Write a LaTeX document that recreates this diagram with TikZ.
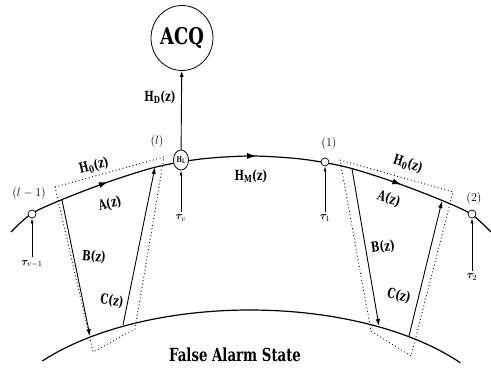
\documentclass[tikz,border=0pt]{standalone}
\usepackage{fontspec}
\usepackage{bm}
\newfontfamily\heavy{DejaVu Serif}
\usetikzlibrary{arrows.meta,shapes.geometric,decorations.markings}
\newcommand{\nrw}[2][0.72]{\scalebox{#1}[1]{#2}}

\begin{document}
\begin{tikzpicture}[x=1pt,y=-1pt,>=Latex,
  curve/.style={line width=1.2pt},
  chan/.style={line width=0.9pt,-{Latex[length=7pt,width=4.5pt]}},
  tau/.style={line width=0.7pt,-{Latex[length=5pt,width=3pt]}},
  fence/.style={line width=0.9pt,dash pattern=on 0.9pt off 2.6pt},
  lbl/.style={font=\heavy\bfseries\fontsize{14}{14}\selectfont,inner sep=1pt},
  idx/.style={font=\fontsize{13}{13}\selectfont,inner sep=1pt},
  tl/.style={font=\fontsize{11}{11}\selectfont,inner sep=3pt},
  dotmark/.style={draw,circle,fill=white,line width=0.7pt,minimum size=8pt,inner sep=0pt}]
\useasboundingbox (0,0) rectangle (491,370);

% detection chain and false alarm state
\draw[curve,postaction={decorate},decoration={markings,
  mark=at position 0.215 with {\arrow{Latex[length=9pt,width=6pt]}},
  mark=at position 0.51 with {\arrow{Latex[length=9pt,width=6pt]}},
  mark=at position 0.80 with {\arrow{Latex[length=9pt,width=6pt]}}}]
  plot[smooth] coordinates {(11,232) (31,214) (61,200) (108,182) (156,167) (201,159)
  (251,156) (301,159) (346,167) (394,182) (441,200) (471,214) (491,232)};
\draw[curve] plot[domain=143:36,samples=60] ({250+260*cos(\x)},{438-128*sin(\x)});

% dotted cells
\draw[fence] (55,187) -- (164,157) -- (135,329) -- (93,352) -- cycle;
\draw[fence] (340,160) -- (453,192) -- (411,356) -- (371,331) -- cycle;

% states
\node[draw,ellipse,line width=0.8pt,minimum width=50pt,minimum height=65pt,inner sep=0pt] (acq) at (182,38)
  {\nrw[0.78]{\heavy\bfseries\fontsize{23}{23}\selectfont ACQ}};
\node[draw,ellipse,fill=white,line width=0.8pt,minimum width=15pt,minimum height=20pt,inner sep=0pt] (hl) at (181,160)
  {\nrw{\heavy\bfseries\fontsize{8}{8}\selectfont H\textsubscript{L}}};
\node[dotmark] (m0) at (32,214) {};
\node[dotmark] (m1) at (325,162) {};
\node[dotmark] (m2) at (472,214) {};

% end points of the cell branches
\coordinate (bl1) at (62,200);
\coordinate (bl2) at (90,336);
\coordinate (cl1) at (123,325);
\coordinate (cl2) at (155,167);
\coordinate (br1) at (352,169);
\coordinate (br2) at (379,326);
\coordinate (cr1) at (409,336);
\coordinate (cr2) at (442,201);
\draw[chan] (bl1) -- (bl2);
\draw[chan] (cl1) -- (cl2);
\draw[chan] (br1) -- (br2);
\draw[chan] (cr1) -- (cr2);

% timers
\node[tl] (tvm) at (32,264) {$\bm{\tau}_{v-1}$};
\node[tl] (tv) at (181,218) {$\bm{\tau}_{v}$};
\node[tl] (t1) at (325,218) {$\bm{\tau}_{1}$};
\node[tl] (t2) at (472,277) {$\bm{\tau}_{2}$};
\draw[tau] (tvm) -- (m0);
\draw[tau] (tv) -- (hl);
\draw[tau] (t1) -- (m1);
\draw[tau] (t2) -- (m2);
\draw[line width=0.9pt,-{Latex[length=6pt,width=4pt]}] (hl) -- (acq);

% labels
\node[lbl] (hd) at (160,97) {\nrw{H\textsubscript{D}(z)}};
\node[lbl] (hm) at (251,176) {\nrw{H\textsubscript{M}(z)}};
\node[lbl,rotate=14] (h0l) at (94,166) {\nrw{H\textsubscript{0}(z)}};
\node[lbl,rotate=14] (al) at (110,204) {\nrw{A(z)}};
\node[lbl,rotate=-5] (bl) at (94,257) {\nrw{B(z)}};
\node[lbl,rotate=-8] (cl) at (112,301) {\nrw{C(z)}};
\node[lbl,rotate=-18] (h0r) at (408,164) {\nrw{H\textsubscript{0}(z)}};
\node[lbl,rotate=-18] (ar) at (389,199) {\nrw{A(z)}};
\node[lbl,rotate=7] (br) at (383,247) {\nrw{B(z)}};
\node[lbl,rotate=-12] (cr) at (399,296) {\nrw{C(z)}};
\node[idx] (nlm) at (29,193) {$(l-1)$};
\node[idx] (nl) at (157,141) {$(l)$};
\node[idx] (n1) at (329,143) {$(1)$};
\node[idx] (n2) at (474,198) {$(2)$};
\node[font=\heavy\bfseries\fontsize{18}{18}\selectfont] (fa) at (235,355) {\nrw[0.74]{False Alarm State}};
\end{tikzpicture}
\end{document}
